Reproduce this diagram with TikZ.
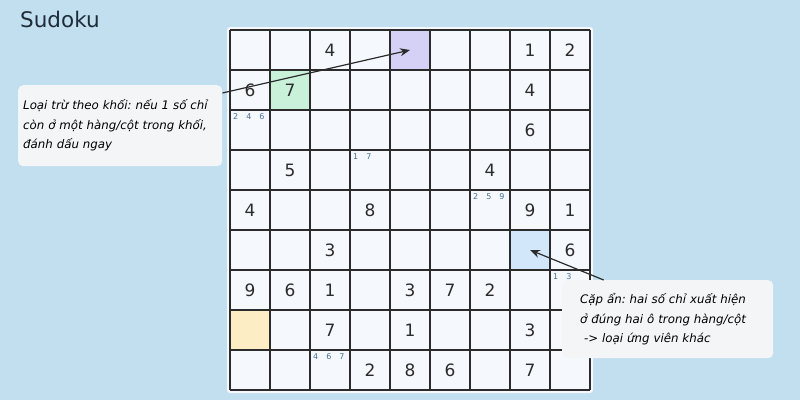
\documentclass[tikz,border=0pt]{standalone}
\usepackage{fontspec}
\setmainfont{DejaVu Sans}
\usepackage{xcolor}
\usetikzlibrary{calc,arrows.meta}
\definecolor{bg}{HTML}{C2DFF0}
\definecolor{panel}{HTML}{F5F9FD}
\definecolor{note}{HTML}{F4F5F7}
\definecolor{ink}{HTML}{2B2B2B}
\definecolor{title}{HTML}{1F2D3B}
\definecolor{cand}{HTML}{4A6F96}
\definecolor{hlpurple}{HTML}{D5D0F5}
\definecolor{hlgreen}{HTML}{C9F1DA}
\definecolor{hlblue}{HTML}{D2E8FA}
\definecolor{hlyellow}{HTML}{FDEDC4}
\newcommand\candfont{\fontsize{8}{8}\selectfont\spaceskip=8pt\relax}
\newcommand\notefont{\fontsize{11.8}{19.5}\selectfont\itshape\frenchspacing}
\tikzset{
  thin/.style={draw=ink, line width=1.1pt},
  thick/.style={draw=ink, line width=2pt},
  cell/.style={minimum size=40pt, inner sep=0pt},
  hl/.style={rounded corners=4pt},
  digit/.style={text=ink, font=\fontsize{17}{17}\selectfont},
  cnd/.style={text=cand, inner sep=0pt, anchor=north west, font=\candfont},
  notebox/.style={fill=note, rounded corners=5pt, align=left, inner ysep=0pt,
    anchor=north west, font=\notefont},
  ptr/.style={draw=ink, line width=1.2pt, -{Stealth[length=10pt,width=8pt]}}
}
\begin{document}
\begin{tikzpicture}[x=1pt,y=-1pt]
  \useasboundingbox (0,0) rectangle (800,400);
  \fill[bg] (0,0) rectangle (800,400);
  \node[anchor=north west, text=title, font=\fontsize{21.5}{21.5}\selectfont, inner sep=0pt] (ttl) at (20,11) {Sudoku};
  % board
  \fill[panel, rounded corners=3pt] (227,27) rectangle (593,393);
  % highlighted cells
  \fill[hlpurple,hl] (390,30) rectangle (430,70);
  \fill[hlgreen,hl] (270,70) rectangle (310,110);
  \fill[hlblue,hl] (510,230) rectangle (550,270);
  \fill[hlyellow,hl] (230,310) rectangle (270,350);
  \node[cell] (c15) at (410,50) {};
  \node[cell] (c68) at (530,250) {};
  % grid
  \foreach \i in {1,2,4,5,7,8} {
    \draw[thin] ({230+40*\i},30) -- ({230+40*\i},390);
    \draw[thin] (230,{30+40*\i}) -- (590,{30+40*\i});
  }
  \foreach \i in {0,3,6,9} {
    \draw[thick] ({230+40*\i},30) -- ({230+40*\i},390);
    \draw[thick] (230,{30+40*\i}) -- (590,{30+40*\i});
  }
  % givens: row/col/digit
  \foreach \r/\c/\d in {1/3/4,1/8/1,1/9/2,2/1/6,2/2/7,2/8/4,3/8/6,
      4/2/5,4/7/4,5/1/4,5/4/8,5/8/9,5/9/1,6/3/3,6/9/6,
      7/1/9,7/2/6,7/3/1,7/5/3,7/6/7,7/7/2,8/3/7,8/5/1,8/8/3,
      9/4/2,9/5/8,9/6/6,9/8/7}
    \node[digit] at ({210+40*\c},{10+40*\r}) {\d};
  % pencil marks
  \node[cnd] at (233,113) {2 4 6};
  \node[cnd] at (353,153) {1 7};
  \node[cnd] at (473,193) {2 5 9};
  \node[cnd] at (553,273) {1 3};
  \node[cnd] at (313,353) {4 6 7};
  % callouts
  \node[notebox, inner xsep=5pt, minimum width=204pt, minimum height=81pt,
    text width=194pt] (lnote) at (18,85)
    {Loại trừ theo khối: nếu 1 số chỉ\\còn ở một hàng/cột trong khối,\\đánh dấu ngay};
  \node[notebox, inner xsep=18pt, minimum width=211pt, minimum height=78pt,
    text width=175pt] (rnote) at (562,280)
    {Cặp ẩn: hai số chỉ xuất hiện\\ở đúng hai ô trong hàng/cột\\~-> loại ứng viên khác};
  \coordinate (lfrom) at ([yshift=-8pt]lnote.north east);
  \coordinate (rfrom) at ([xshift=-64pt]rnote.north);
  \draw[ptr] (lfrom) -- (c15.center);
  \draw[ptr] (rfrom) -- (c68.center);
\end{tikzpicture}
\end{document}
